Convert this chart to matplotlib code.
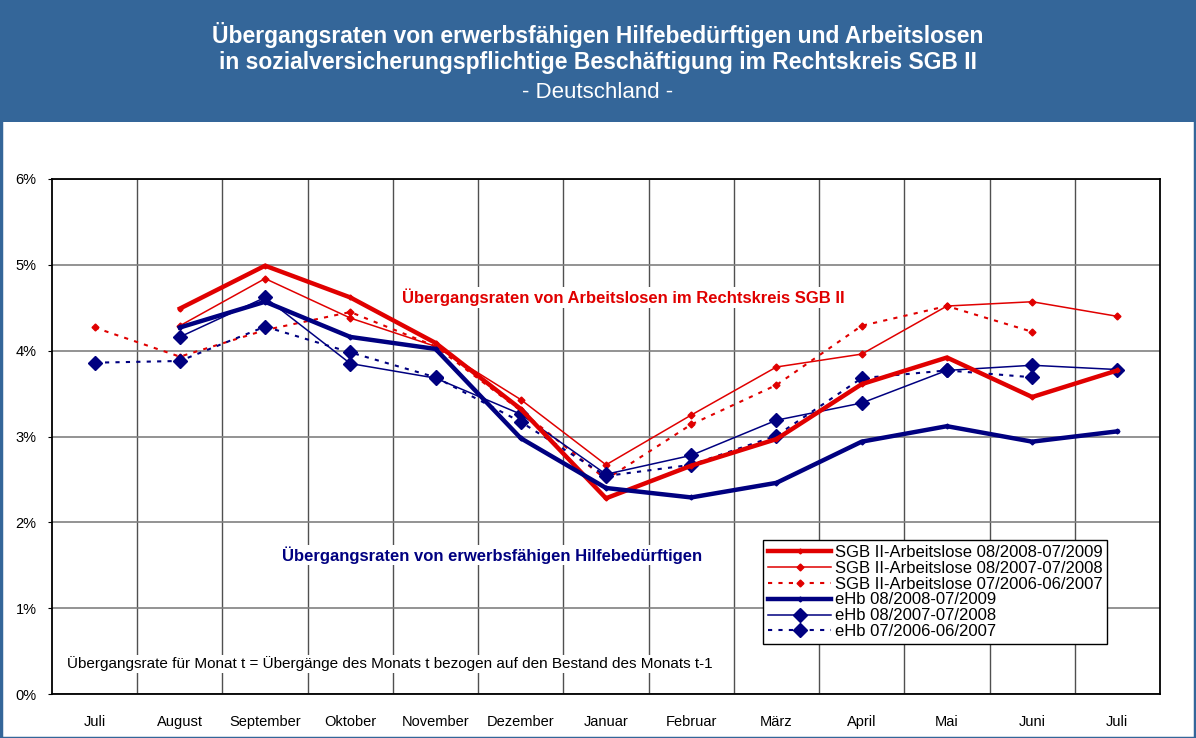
import numpy as np
import matplotlib
matplotlib.use("Agg")
import matplotlib.pyplot as plt
from matplotlib.ticker import PercentFormatter, FixedLocator
from matplotlib.patches import Rectangle

plt.rcParams['font.family'] = ['Liberation Sans', 'DejaVu Sans']

months = ["Juli", "August", "September", "Oktober", "November", "Dezember",
          "Januar", "Februar", "März", "April", "Mai", "Juni", "Juli"]
nan = np.nan
alo_2008 = [nan, 4.49, 4.99, 4.62, 4.09, 3.32, 2.28, 2.66, 2.97, 3.61, 3.92, 3.46, 3.77]
alo_2007 = [nan, 4.29, 4.84, 4.38, 4.05, 3.43, 2.67, 3.25, 3.81, 3.96, 4.52, 4.57, 4.40]
alo_2006 = [4.27, 3.93, 4.24, 4.45, 4.05, 3.30, 2.50, 3.14, 3.60, 4.29, 4.52, 4.22, nan]
ehb_2008 = [nan, 4.27, 4.57, 4.16, 4.02, 2.98, 2.40, 2.29, 2.46, 2.94, 3.12, 2.94, 3.06]
ehb_2007 = [nan, 4.16, 4.62, 3.85, 3.68, 3.26, 2.56, 2.78, 3.19, 3.39, 3.77, 3.83, 3.78]
ehb_2006 = [3.86, 3.88, 4.28, 3.98, 3.69, 3.17, 2.54, 2.67, 3.01, 3.68, 3.77, 3.69, nan]

labels = ["SGB II-Arbeitslose 08/2008-07/2009",
          "SGB II-Arbeitslose 08/2007-07/2008",
          "SGB II-Arbeitslose 07/2006-06/2007",
          "eHb 08/2008-07/2009",
          "eHb 08/2007-07/2008",
          "eHb 07/2006-06/2007"]

RED = "#E00000"
BLUE = "#000080"
HEADER = "#346699"

fig = plt.figure(figsize=(11.96, 7.38), dpi=100)
fig.patch.set_facecolor("white")
fig.patches.append(Rectangle((0, 1 - 122 / 738), 1, 122 / 738, transform=fig.transFigure,
                             facecolor=HEADER, edgecolor="none", zorder=0))
fig.patches.append(Rectangle((0.001, 0.0), 0.998, 1.0, transform=fig.transFigure,
                             facecolor="none", edgecolor=HEADER, linewidth=2.5, zorder=0))

fig.text(0.5, 1 - 35 / 738, "Übergangsraten von erwerbsfähigen Hilfebedürftigen und Arbeitslosen",
         ha="center", va="center", color="white", fontsize=16.5, fontweight="bold")
fig.text(0.5, 1 - 63 / 738, "in sozialversicherungspflichtige Beschäftigung im Rechtskreis SGB II",
         ha="center", va="center", color="white", fontsize=16.5, fontweight="bold")
fig.text(0.5, 1 - 93 / 738, "- Deutschland -", ha="center", va="center", color="white",
         fontsize=16)

ax = fig.add_axes([52 / 1196, 1 - 694 / 738, (1160 - 52) / 1196, (694 - 179) / 738])
x = np.arange(len(months))

ax.plot(x, alo_2008, color=RED, lw=3.2, marker="D", ms=2.5, label=labels[0], zorder=5)
ax.plot(x, alo_2007, color=RED, lw=1.1, marker="D", ms=3.5, label=labels[1], zorder=4)
ax.plot(x, alo_2006, color=RED, lw=1.5, ls=(0, (2, 3)), marker="D", ms=3.5, label=labels[2], zorder=4)
ax.plot(x, ehb_2008, color=BLUE, lw=3.2, marker="D", ms=2.5, label=labels[3], zorder=5)
ax.plot(x, ehb_2007, color=BLUE, lw=1.1, marker="D", ms=7, label=labels[4], zorder=4)
ax.plot(x, ehb_2006, color=BLUE, lw=1.5, ls=(0, (2, 3)), marker="D", ms=7, label=labels[5], zorder=4)

ax.set_xlim(-0.5, len(months) - 0.5)
ax.set_ylim(0, 6)
ax.yaxis.set_major_locator(FixedLocator([0, 1, 2, 3, 4, 5, 6]))
ax.yaxis.set_major_formatter(PercentFormatter(decimals=0))
ax.set_xticks(x)
ax.set_xticklabels(months)
ax.set_xticks(np.arange(0.5, len(months) - 0.5, 1), minor=True)
ax.tick_params(axis="x", which="both", length=0, labelsize=10.5, pad=15)
ax.tick_params(axis="y", which="major", length=3, labelsize=10.5, pad=8)
ax.grid(axis="y", which="major", color="#808080", lw=1.2, zorder=0)
ax.grid(axis="x", which="minor", color="#505050", lw=1.0, zorder=0)
for s in ax.spines.values():
    s.set_color("black")
    s.set_linewidth(1.3)

ax.text(6.2, 4.62, "Übergangsraten von Arbeitslosen im Rechtskreis SGB II", color=RED,
        fontsize=12, fontweight="bold", ha="center", va="center", zorder=6,
        bbox=dict(facecolor="white", edgecolor="none", pad=1))
ax.text(4.66, 1.62, "Übergangsraten von erwerbsfähigen Hilfebedürftigen", color=BLUE,
        fontsize=12, fontweight="bold", ha="center", va="center", zorder=6,
        bbox=dict(facecolor="white", edgecolor="none", pad=1))
ax.text(-0.32, 0.35, "Übergangsrate für Monat t = Übergänge des Monats t bezogen auf den Bestand des Monats t-1",
        color="black", fontsize=11, ha="left", va="center", zorder=6,
        bbox=dict(facecolor="white", edgecolor="none", pad=1))

leg = ax.legend(loc="upper left", bbox_to_anchor=(763 / 1196, 1 - 540 / 738),
                bbox_transform=fig.transFigure, frameon=True, fancybox=False,
                edgecolor="black", framealpha=1, fontsize=12, labelspacing=0.05,
                handlelength=3.8, handletextpad=0.2, borderpad=0.3, borderaxespad=0)
leg.get_frame().set_linewidth(1.0)
leg.set_zorder(10)

fig.savefig("out.png", dpi=100)
